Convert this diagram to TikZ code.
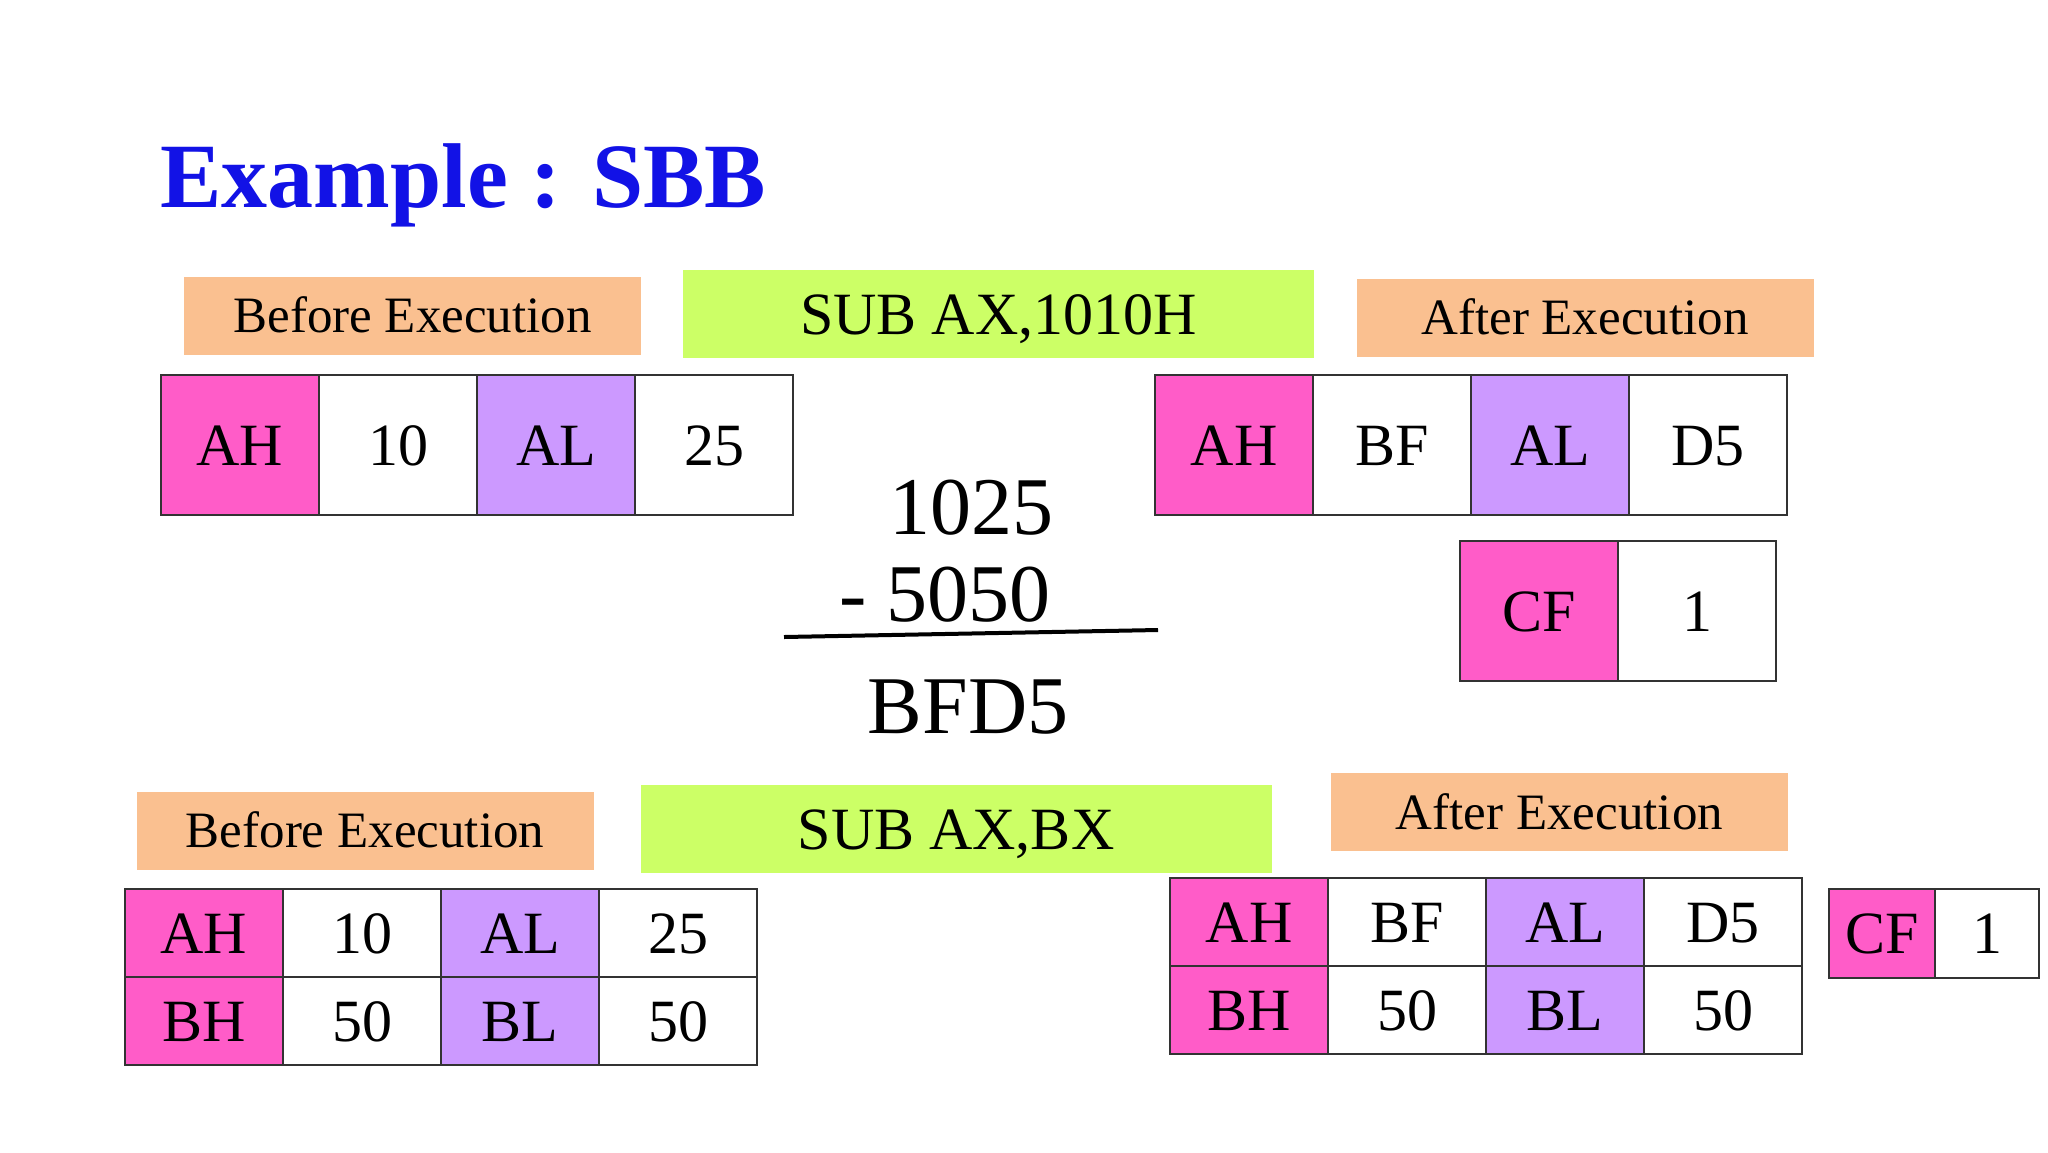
\documentclass[tikz,border=0pt]{standalone}
\usepackage{fontspec}
\setmainfont{Liberation Serif}
\usetikzlibrary{positioning}

\definecolor{regpink}{HTML}{FF5CC8}
\definecolor{regviolet}{HTML}{CC99FF}
\definecolor{peach}{HTML}{FAC090}
\definecolor{lime}{HTML}{CCFF66}
\definecolor{titleblue}{HTML}{1212E6}

\tikzset{
    cell/.style={draw=black!80, line width=1pt, minimum width=79pt, minimum height=70pt,
        inner sep=0pt, outer sep=0pt, font=\fontsize{30pt}{36pt}\selectfont,
        text height=20pt, text depth=0pt},
    hcell/.style={cell, fill=regpink},
    lcell/.style={cell, fill=regviolet},
    vcell/.style={cell, fill=white},
    flat/.style={minimum height=44pt},
    stagebox/.style={fill=peach, minimum width=228.5pt, minimum height=39pt, inner sep=0pt,
        font=\fontsize{25.5pt}{30pt}\selectfont, text height=17pt, text depth=0pt},
    instrbox/.style={fill=lime, minimum width=315.5pt, minimum height=44pt, inner sep=0pt,
        font=\fontsize{30pt}{36pt}\selectfont, text height=20pt, text depth=0pt},
    sumtext/.style={font=\fontsize{41pt}{48pt}\selectfont, inner sep=0pt, anchor=base}
}

\begin{document}
\begin{tikzpicture}[x=0.5pt, y=-0.5pt]
            \useasboundingbox[fill=white] (0,0) rectangle (2048,1152);

            % title
            \node[anchor=base west, inner sep=0pt, text=titleblue,
                font=\bfseries\fontsize{46pt}{55pt}\selectfont] (title) at (160,207) {Example : SBB};

            % first example: SUB AX,1010H
            \node[stagebox] (before1) at (412.5,315.5) {Before Execution};
            \node[instrbox] (instr1) at (998.5,314) {SUB AX,1010H};
            \node[stagebox] (after1) at (1585,317.5) {After Execution};

            \node[hcell, anchor=north west] (ah1) at (161,375) {AH};
            \node[vcell, right=0pt of ah1] (ahv1) {10};
            \node[lcell, right=0pt of ahv1] (al1) {AL};
            \node[vcell, right=0pt of al1] (alv1) {25};

            \node[hcell, anchor=north west] (ah2) at (1155,375) {AH};
            \node[vcell, right=0pt of ah2] (ahv2) {BF};
            \node[lcell, right=0pt of ahv2] (al2) {AL};
            \node[vcell, right=0pt of al2] (alv2) {D5};

            \node[hcell, anchor=north west] (cf1) at (1460,541) {CF};
            \node[vcell, right=0pt of cf1] (cfv1) {1};

            % the subtraction
            \node[sumtext] (minuend) at (971,534) {1025};
            \node[sumtext] (subtrahend) at (945,621) {- 5050};
            \coordinate (barl) at (784,637);
            \coordinate (barr) at (1158,630);
            \draw[line width=2pt] (barl) -- (barr);
            \node[sumtext] (result) at (968,733) {BFD5};

            % second example: SUB AX,BX
            \node[stagebox] (before2) at (365,830.5) {Before Execution};
            \node[instrbox] (instr2) at (956,829) {SUB AX,BX};
            \node[stagebox] (after2) at (1559.5,812) {After Execution};

            \node[hcell, flat, anchor=north west] (ah3) at (125,889) {AH};
            \node[vcell, flat, right=0pt of ah3] (ahv3) {10};
            \node[lcell, flat, right=0pt of ahv3] (al3) {AL};
            \node[vcell, flat, right=0pt of al3] (alv3) {25};
            \node[hcell, flat, below=0pt of ah3] (bh3) {BH};
            \node[vcell, flat, right=0pt of bh3] (bhv3) {50};
            \node[lcell, flat, right=0pt of bhv3] (bl3) {BL};
            \node[vcell, flat, right=0pt of bl3] (blv3) {50};

            \node[hcell, flat, anchor=north west] (ah4) at (1170,878) {AH};
            \node[vcell, flat, right=0pt of ah4] (ahv4) {BF};
            \node[lcell, flat, right=0pt of ahv4] (al4) {AL};
            \node[vcell, flat, right=0pt of al4] (alv4) {D5};
            \node[hcell, flat, below=0pt of ah4] (bh4) {BH};
            \node[vcell, flat, right=0pt of bh4] (bhv4) {50};
            \node[lcell, flat, right=0pt of bhv4] (bl4) {BL};
            \node[vcell, flat, right=0pt of bl4] (blv4) {50};

            \node[hcell, flat, minimum width=53pt, minimum height=44.5pt, anchor=north west] (cf2) at (1829,889) {CF};
            \node[vcell, flat, minimum width=52pt, minimum height=44.5pt, right=0pt of cf2] (cfv2) {1};
\end{tikzpicture}
\end{document}
